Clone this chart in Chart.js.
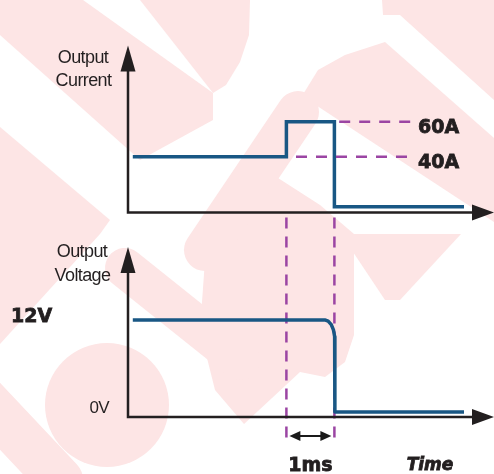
<!DOCTYPE html>
<html>
<head>
<meta charset="utf-8">
<script src="https://cdn.jsdelivr.net/npm/chart.js@4.4.1/dist/chart.umd.min.js"></script>
<style>
  html, body { margin: 0; padding: 0; background: #fff; }
  #wrap { width: 494px; height: 474px; position: relative; }
</style>
</head>
<body>
<div id="wrap"><canvas id="diagrama" width="494" height="474"></canvas></div>
<script>
// Tiempo en ms, corriente en A, tensión en V
const currentTime = [0.1, 3.3, 3.3, 4.3, 4.3, 7.0];
const currentAmps = [40, 40, 60, 60, 11.4, 11.4];

const voltageTime = [0.1, 4.1, 4.17, 4.235, 4.28, 4.305, 4.31, 4.31, 7.0];
const voltageVolts = [12, 12, 11.84, 11.39, 10.7, 9.85, 9.4, 0, 0];

const levelAmps = [60, 40];
const levelLabels = ["60A", "40A"];
const levelStart = [4.4, 3.5];
const levelEnd = 5.92;

const voltLabels = [{ v: 12, text: "12V" }, { v: 0, text: "0V" }];
const markerTimes = [3.3, 4.3];
const markerLabel = "1ms";

const currentFloor = 8.2;   // donde corre el eje de tiempo del panel de corriente
const INK = "#231f20";
const BLUE = "#195784";
const PURPLE = "#9b45a3";
const PINK = "#fde5e5";

const toPoints = (xs, ys) => xs.map((x, i) => ({ x, y: ys[i] }));

// marca de agua rosada del fondo (aproximada)
const fondo = {
  id: "fondo",
  beforeDraw(chart) {
    const ctx = chart.ctx;
    ctx.save();
    ctx.fillStyle = "#fff";
    ctx.fillRect(0, 0, chart.width, chart.height);
    ctx.strokeStyle = PINK;
    ctx.fillStyle = PINK;
    ctx.lineCap = "round";
    ctx.lineJoin = "round";
    const poligonos = [
      [[0, 0], [83, 0], [213, 93], [213, 120], [140, 160], [0, 35]],
      [[140, 0], [250, 0], [249, 35], [240, 62], [226, 85], [213, 93]],
      [[0, 127], [110, 220], [100, 234], [0, 344]],
      [[382, 0], [494, 0], [494, 100], [400, 15], [383, 15]],
      [[302, 96], [318, 70], [345, 55], [385, 42], [494, 138], [494, 222]],
      [[341, 234], [461, 234], [400, 300], [385, 300]],
      [[250, 160], [320, 205], [354, 234], [354, 335], [345, 362], [325, 377], [300, 372],
       [244, 424], [215, 390], [200, 330], [205, 260]]
    ];
    poligonos.forEach(p => {
      ctx.beginPath();
      p.forEach(([px, py], i) => i ? ctx.lineTo(px, py) : ctx.moveTo(px, py));
      ctx.closePath();
      ctx.fill();
    });
    const bandas = [
      [205, 250, 298, 112, 42],
      [125, 268, 240, 360, 40],
      [-20, 395, 60, 480, 46]
    ];
    bandas.forEach(([x1, y1, x2, y2, w]) => {
      ctx.lineWidth = w;
      ctx.beginPath();
      ctx.moveTo(x1, y1);
      ctx.lineTo(x2, y2);
      ctx.stroke();
    });
    ctx.beginPath(); ctx.arc(107, 405, 62, 0, Math.PI * 2); ctx.fill();
    ctx.restore();
  }
};

function flecha(ctx, x, y, dir, len, half) {
  ctx.beginPath();
  if (dir === "up") {
    ctx.moveTo(x, y); ctx.lineTo(x - half, y + len); ctx.lineTo(x + half, y + len);
  } else if (dir === "right") {
    ctx.moveTo(x, y); ctx.lineTo(x - len, y - half); ctx.lineTo(x - len, y + half);
  } else {
    ctx.moveTo(x, y); ctx.lineTo(x + len, y - half); ctx.lineTo(x + len, y + half);
  }
  ctx.closePath();
  ctx.fill();
}

function negrita(ctx, text, x, y) {
  ctx.fillText(text, x, y);
  ctx.strokeText(text, x, y);
}

// ejes con flechas, guías verticales y rótulos
const anotaciones = {
  id: "anotaciones",
  beforeDatasetsDraw(chart) {
    const ctx = chart.ctx;
    const { x, yI, yV } = chart.scales;
    const x0 = x.getPixelForValue(0);
    const baseI = yI.getPixelForValue(currentFloor);
    const baseV = yV.getPixelForValue(yV.min);

    ctx.save();
    // guías verticales discontinuas
    ctx.strokeStyle = PURPLE;
    ctx.lineWidth = 2.5;
    ctx.setLineDash([11, 8]);
    markerTimes.forEach(t => {
      const px = x.getPixelForValue(t);
      ctx.beginPath();
      ctx.moveTo(px, baseI + 5);
      ctx.lineTo(px, baseV + 24);
      ctx.stroke();
    });
    ctx.setLineDash([]);

    // ejes
    ctx.strokeStyle = INK;
    ctx.fillStyle = INK;
    ctx.lineWidth = 2.5;
    [[baseI, 167], [baseV, 170]].forEach(([base, alto]) => {
      ctx.beginPath();
      ctx.moveTo(x0, base - alto + 20);
      ctx.lineTo(x0, base);
      ctx.lineTo(chart.width - 12, base);
      ctx.stroke();
      flecha(ctx, x0, base - alto, "up", 26, 7.5);
      flecha(ctx, chart.width, base, "right", 22, 8);
    });
    ctx.restore();
  },
  afterDraw(chart) {
    const ctx = chart.ctx;
    const { x, yI, yV } = chart.scales;
    const baseV = yV.getPixelForValue(yV.min);
    ctx.save();
    ctx.fillStyle = INK;
    ctx.strokeStyle = INK;
    ctx.lineWidth = 0.8;

    // títulos de los ejes
    ctx.font = "18px 'Liberation Sans', Arial, sans-serif";
    ctx.letterSpacing = "-0.6px";
    ctx.textAlign = "center";
    ctx.textBaseline = "alphabetic";
    ctx.fillText("Output", 83, 63);
    ctx.fillText("Current", 83.5, 86);
    ctx.fillText("Output", 82, 257);
    ctx.fillText("Voltage", 82.5, 281);

    // niveles de corriente
    ctx.letterSpacing = "0px";
    ctx.textBaseline = "middle";
    ctx.textAlign = "left";
    ctx.font = "bold 19px 'DejaVu Sans', sans-serif";
    levelAmps.forEach((a, i) => {
      negrita(ctx, levelLabels[i], 418, yI.getPixelForValue(a) + 6);
    });

    // niveles de tensión
    negrita(ctx, voltLabels[0].text, 11, yV.getPixelForValue(voltLabels[0].v) - 3);
    ctx.font = "17px 'Liberation Sans', Arial, sans-serif";
    ctx.letterSpacing = "-0.6px";
    ctx.textAlign = "right";
    ctx.fillText(voltLabels[1].text, 109, yV.getPixelForValue(voltLabels[1].v) - 4);
    ctx.letterSpacing = "0px";

    // cota de 1 ms
    const xa = x.getPixelForValue(markerTimes[0]);
    const xb = x.getPixelForValue(markerTimes[1]);
    const yc = baseV + 19;
    ctx.strokeStyle = "#1a1a1a";
    ctx.fillStyle = "#1a1a1a";
    ctx.lineWidth = 2;
    ctx.beginPath();
    ctx.moveTo(xa + 6, yc);
    ctx.lineTo(xb - 6, yc);
    ctx.stroke();
    flecha(ctx, xa + 3, yc, "left", 11, 5);
    flecha(ctx, xb - 3, yc, "right", 11, 5);

    ctx.fillStyle = INK;
    ctx.strokeStyle = INK;
    ctx.lineWidth = 0.8;
    ctx.textAlign = "center";
    ctx.font = "bold 19px 'DejaVu Sans', sans-serif";
    negrita(ctx, markerLabel, (xa + xb) / 2, 466);
    ctx.font = "italic bold 17px 'DejaVu Sans', sans-serif";
    negrita(ctx, "Time", 430, 466);
    ctx.restore();
  }
};

const refDatasets = levelAmps.map((a, i) => ({
  label: levelLabels[i],
  data: [{ x: levelStart[i], y: a }, { x: levelEnd, y: a }],
  yAxisID: "yI",
  borderColor: PURPLE,
  borderWidth: 2.5,
  borderDash: [11, 9],
  pointRadius: 0,
  fill: false
}));

new Chart(document.getElementById("diagrama"), {
  type: "line",
  data: {
    datasets: [
      ...refDatasets,
      {
        label: "Output Current",
        data: toPoints(currentTime, currentAmps),
        yAxisID: "yI",
        borderColor: BLUE,
        borderWidth: 3.5,
        borderJoinStyle: "miter",
        pointRadius: 0,
        fill: false
      },
      {
        label: "Output Voltage",
        data: toPoints(voltageTime, voltageVolts),
        yAxisID: "yV",
        borderColor: BLUE,
        borderWidth: 3.5,
        borderJoinStyle: "round",
        pointRadius: 0,
        fill: false
      }
    ]
  },
  options: {
    responsive: false,
    animation: false,
    layout: { padding: { left: 128, right: 30, top: 40, bottom: 57 } },
    plugins: {
      legend: { display: false },
      tooltip: { enabled: false }
    },
    scales: {
      x: { type: "linear", min: 0, max: 7.0, display: false },
      yI: { type: "linear", position: "left", min: -108.7, max: 106.7, display: false },
      yV: { type: "linear", position: "left", min: -0.65, max: 48.5, display: false }
    }
  },
  plugins: [fondo, anotaciones]
});
</script>
</body>
</html>
